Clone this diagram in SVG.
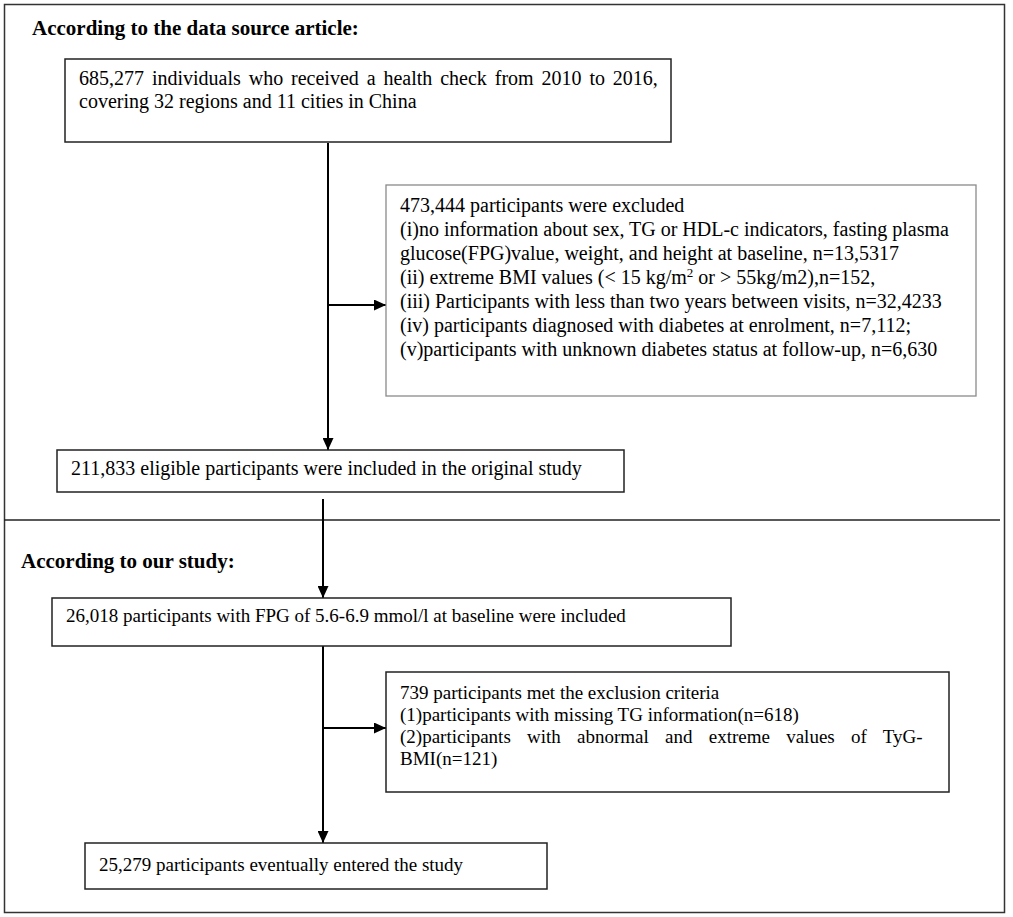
<svg xmlns="http://www.w3.org/2000/svg" width="1013" height="917" viewBox="0 0 1013 917">
<defs>
<style>
.t{font-family:"Liberation Serif","Times New Roman",serif;font-size:20px;fill:#000}
.s{font-family:"Liberation Serif","Times New Roman",serif;font-size:19px;fill:#000}
.h{font-family:"Liberation Serif","Times New Roman",serif;font-size:21px;font-weight:bold;fill:#000}
.box{fill:#fff;stroke:#222;stroke-width:1.5}
.gbox{fill:#fff;stroke:#8a8a8a;stroke-width:1.3}
.ln{stroke:#000;stroke-width:2;fill:none}
</style>
<marker id="ah" markerWidth="12" markerHeight="11" refX="12" refY="5.5" orient="auto" markerUnits="userSpaceOnUse">
<path d="M0,0 L12,5.5 L0,11 Z" fill="#000"/>
</marker>
</defs>
<rect x="0" y="0" width="1013" height="917" fill="#fff"/>
<rect x="4.5" y="4.5" width="1000" height="908" fill="none" stroke="#333" stroke-width="1.5"/>
<text class="h" x="32" y="35">According to the data source article:</text>
<line x1="4" y1="520" x2="1000" y2="520" stroke="#222" stroke-width="1.5"/>
<text class="h" x="21" y="568">According to our study:</text>

<g id="connectors">
<line class="ln" x1="328" y1="143" x2="328" y2="450" marker-end="url(#ah)"/>
<line class="ln" x1="328" y1="305" x2="386" y2="305" marker-end="url(#ah)"/>
<line class="ln" x1="323" y1="499" x2="323" y2="598" marker-end="url(#ah)"/>
<line class="ln" x1="323" y1="646" x2="323" y2="843" marker-end="url(#ah)"/>
<line class="ln" x1="323" y1="728" x2="386" y2="728" marker-end="url(#ah)"/>
</g>

<g id="n1">
<rect class="box" x="65" y="59" width="606" height="83"/>
<text class="t" x="79" y="85" word-spacing="2.9">685,277 individuals who received a health check from 2010 to 2016,</text>
<text class="t" x="79" y="108">covering 32 regions and 11 cities in China</text>
</g>

<g id="n2">
<rect class="gbox" x="386" y="185" width="590" height="211"/>
<text class="t" x="400" y="212">473,444 participants were excluded</text>
<text class="t" x="400" y="236">(i)no information about sex, TG or HDL-c indicators, fasting plasma</text>
<text class="t" x="400" y="260">glucose(FPG)value, weight, and height at baseline, n=13,5317</text>
<text class="t" x="400" y="284">(ii) extreme BMI values (&lt; 15 kg/m<tspan font-size="13" dy="-7">2</tspan><tspan dy="7"> or &gt; 55kg/m2),n=152,</tspan></text>
<text class="t" x="400" y="308">(iii) Participants with less than two years between visits, n=32,4233</text>
<text class="t" x="400" y="332">(iv) participants diagnosed with diabetes at enrolment, n=7,112;</text>
<text class="t" x="400" y="356">(v)participants with unknown diabetes status at follow-up, n=6,630</text>
</g>

<g id="n3">
<rect class="box" x="57" y="450" width="567" height="42"/>
<text class="t" x="71" y="475">211,833 eligible participants were included in the original study</text>
</g>

<g id="n4">
<rect class="box" x="52" y="598" width="679" height="48"/>
<text class="s" x="66" y="622">26,018 participants with FPG of 5.6-6.9 mmol/l at baseline were included</text>
</g>

<g id="n5">
<rect class="box" x="386" y="672" width="563" height="120"/>
<text class="s" x="400" y="699">739 participants met the exclusion criteria</text>
<text class="s" x="400" y="721">(1)participants with missing TG information(n=618)</text>
<text class="s" x="400" y="743" word-spacing="11.5">(2)participants with abnormal and extreme values of TyG-</text>
<text class="s" x="400" y="765">BMI(n=121)</text>
</g>

<g id="n6">
<rect class="box" x="85" y="843" width="462" height="46"/>
<text class="s" x="99" y="871">25,279 participants eventually entered the study</text>
</g>
</svg>
